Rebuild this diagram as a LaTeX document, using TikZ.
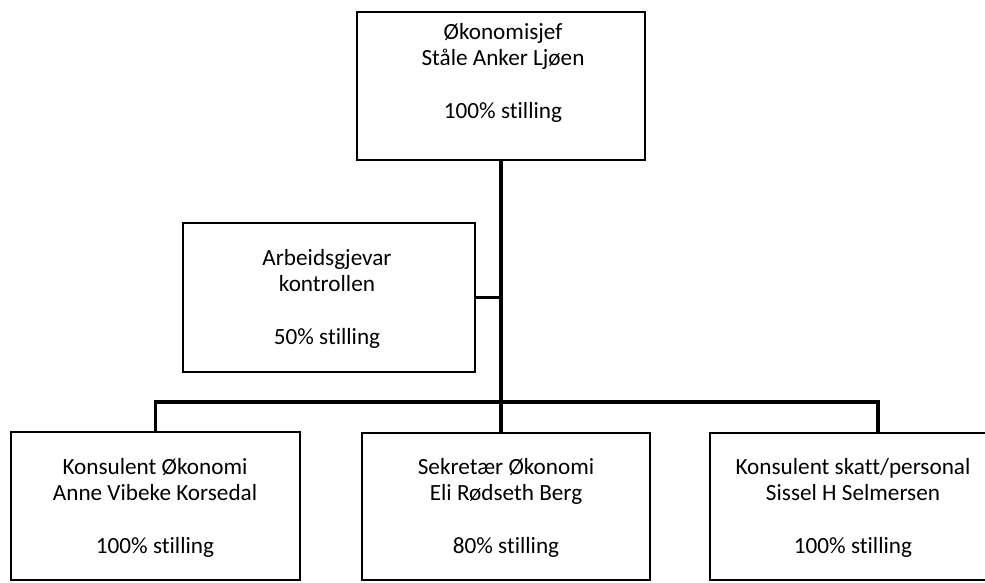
\documentclass[tikz,border=0pt]{standalone}
\usepackage{fontspec}
\setmainfont[Ligatures=NoCommon]{Carlito}
\begin{document}
\begin{tikzpicture}[x=1pt,y=-1pt,
  box/.style={draw=black,line width=1.4pt,rectangle,inner sep=0pt},
  lbl/.style={align=center,font=\fontsize{23.2}{26.5}\selectfont,inner sep=0pt},
  conn/.style={draw=black,line width=3.2pt}]
\useasboundingbox (0,0) rectangle (985,583);
\fill[white] (0,0) rectangle (985,583);
% boxes
\node[box,minimum width=288pt,minimum height=148pt] (top) at (501,86) {};
\node[box,minimum width=292pt,minimum height=149pt] (arb) at (329,297.5) {};
\node[box,minimum width=289pt,minimum height=148pt] (left) at (155.5,506) {};
\node[box,minimum width=288pt,minimum height=147pt] (mid) at (506,506.5) {};
\node[box,minimum width=286pt,minimum height=147pt] (right) at (853,506.5) {};
% texts
\node[lbl] (topT) at (503,73) {Økonomisjef\\Ståle Anker Ljøen\\[26.5pt]100\% stilling};
\node[lbl] (arbT) at (327,299) {Arbeidsgjevar\\kontrollen\\[26.5pt]50\% stilling};
\node[lbl] (leftT) at (155,508) {Konsulent Økonomi\\Anne Vibeke Korsedal\\[26.5pt]100\% stilling};
\node[lbl] (midT) at (506,508) {Sekretær Økonomi\\Eli Rødseth Berg\\[26.5pt]80\% stilling};
\node[lbl] (rightT) at (853,508) {Konsulent skatt/personal\\Sissel H Selmersen\\[26.5pt]100\% stilling};
% connectors
\coordinate (busR) at (878,402);
\draw[conn] (top.south) -- (top.south |- mid.north);
\draw[conn] (arb.east) -- (arb.east -| top.south);
\draw[conn] (left.north) |- (busR) -- (busR |- right.north);
\end{tikzpicture}
\end{document}
